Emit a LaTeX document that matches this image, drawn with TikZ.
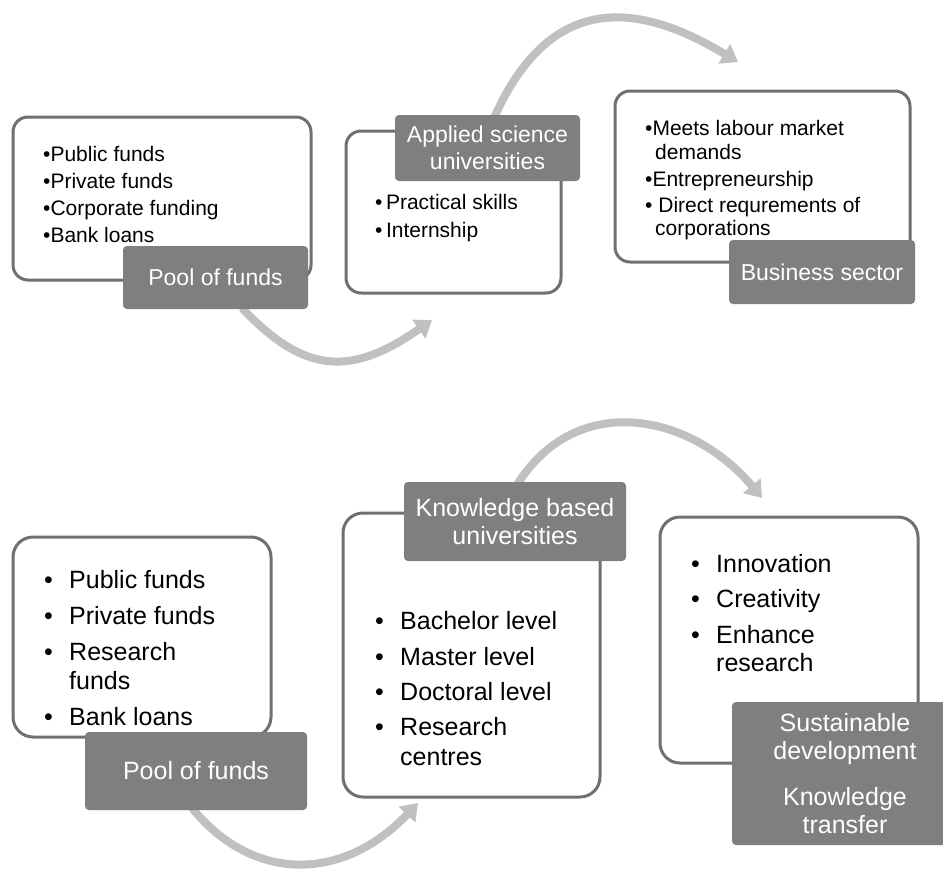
\documentclass[tikz,border=0pt]{standalone}
\usepackage{fontspec}
\setmainfont{Liberation Sans}
\usetikzlibrary{arrows.meta}
\definecolor{boxgray}{HTML}{707070}
\definecolor{labgray}{HTML}{7F7F7F}
\definecolor{arrowgray}{HTML}{C0C0C0}
\begin{document}
\begin{tikzpicture}[x=1pt,y=-1pt,
  box/.style={draw=boxgray, line width=3pt, fill=white, rounded corners=15pt, inner sep=0pt},
  lab/.style={fill=labgray, text=white, rounded corners=4pt, inner sep=0pt, align=center},
  flow/.style={draw=arrowgray, line width=8pt, -{Triangle[width=22pt,length=16pt]}},
  it/.style={anchor=base west, inner sep=0pt},
  topf/.style={font=\fontsize{21}{27}\selectfont},
  botf/.style={font=\fontsize{25}{29}\selectfont},
  toplab/.style={lab, font=\fontsize{23}{27}\selectfont},
  botlab/.style={lab, font=\fontsize{25}{28.5}\selectfont}]
\useasboundingbox (0,0) rectangle (943,868);
\fill[white] (0,0) rectangle (943,868);

% arrow end points
\coordinate (s1) at (242,308);
\coordinate (e1) at (432,320);
\coordinate (s2) at (494,118);
\coordinate (e2) at (738,62);
\coordinate (s3) at (192,808);
\coordinate (e3) at (418,803);
\coordinate (s4) at (515,488);
\coordinate (e4) at (762,498);

\draw[flow] (s1) .. controls (305,375) and (352,376) .. (e1);
\draw[flow] (s2) .. controls (554,-17) and (648,8) .. (e2);
\draw[flow] (s3) .. controls (255,885) and (345,880) .. (e3);
\draw[flow] (s4) .. controls (575,388) and (692,414) .. (e4);

% ---------- top row ----------
\node[box, minimum width=298pt, minimum height=163pt] (A1) at (162,198.5) {};
\node[box, minimum width=215pt, minimum height=162pt] (A2) at (453.5,212) {};
\node[box, minimum width=295pt, minimum height=171pt] (A3) at (762.5,176.5) {};

\node[toplab, minimum width=185pt, minimum height=63pt] (L1) at (215.5,277.5) {Pool of funds};
\node[toplab, minimum width=185pt, minimum height=66pt] (L2) at (487.5,148) {Applied science\\universities};
\node[toplab, minimum width=186pt, minimum height=64pt] (L3) at (822,272) {Business sector};

\node[it, topf] (a1a) at (43,161) {\textbullet Public funds};
\node[it, topf] (a1b) at (43,188) {\textbullet Private funds};
\node[it, topf] (a1c) at (43,215) {\textbullet Corporate funding};
\node[it, topf] (a1d) at (43,242) {\textbullet Bank loans};

\node[it, topf] (a2a) at (375,209) {\textbullet\,Practical skills};
\node[it, topf] (a2b) at (375,237) {\textbullet\,Internship};

\node[it, topf] (a3a) at (645,135) {\textbullet Meets labour market};
\node[it, topf] (a3b) at (655,159) {demands};
\node[it, topf] (a3c) at (645,186) {\textbullet Entrepreneurship};
\node[it, topf] (a3d) at (645,212) {\textbullet\ Direct requrements of};
\node[it, topf] (a3e) at (655,235) {corporations};

% ---------- bottom row ----------
\node[box, rounded corners=20pt, minimum width=258pt, minimum height=200pt] (B1) at (142,637) {};
\node[box, rounded corners=20pt, minimum width=257pt, minimum height=284pt] (B2) at (471.5,655) {};
\node[box, rounded corners=20pt, minimum width=258pt, minimum height=246pt] (B3) at (789,640) {};

\node[botlab, minimum width=222pt, minimum height=78pt] (L4) at (196,771) {Pool of funds};
\node[botlab, minimum width=222pt, minimum height=79pt] (L5) at (515,521.5) {Knowledge based\\universities};
\node[botlab, minimum width=226pt, minimum height=143pt] (L6) at (845,773.5) {Sustainable\\development\\[17pt]Knowledge\\transfer};

\node[it, botf] (b1p1) at (44,588) {\textbullet};
\node[it, botf] (b1a) at (69,588) {Public funds};
\node[it, botf] (b1p2) at (44,624) {\textbullet};
\node[it, botf] (b1b) at (69,624) {Private funds};
\node[it, botf] (b1p3) at (44,660) {\textbullet};
\node[it, botf] (b1c) at (69,660) {Research};
\node[it, botf] (b1d) at (69,689) {funds};
\node[it, botf] (b1p4) at (44,725) {\textbullet};
\node[it, botf] (b1e) at (69,725) {Bank loans};

\node[it, botf] (b2p1) at (375,629) {\textbullet};
\node[it, botf] (b2a) at (400,629) {Bachelor level};
\node[it, botf] (b2p2) at (375,665) {\textbullet};
\node[it, botf] (b2b) at (400,665) {Master level};
\node[it, botf] (b2p3) at (375,700) {\textbullet};
\node[it, botf] (b2c) at (400,700) {Doctoral level};
\node[it, botf] (b2p4) at (375,735) {\textbullet};
\node[it, botf] (b2d) at (400,735) {Research};
\node[it, botf] (b2e) at (400,765) {centres};

\node[it, botf] (b3p1) at (691,572) {\textbullet};
\node[it, botf] (b3a) at (716,572) {Innovation};
\node[it, botf] (b3p2) at (691,607) {\textbullet};
\node[it, botf] (b3b) at (716,607) {Creativity};
\node[it, botf] (b3p3) at (691,643) {\textbullet};
\node[it, botf] (b3c) at (716,643) {Enhance};
\node[it, botf] (b3d) at (716,671) {research};
\end{tikzpicture}
\end{document}
